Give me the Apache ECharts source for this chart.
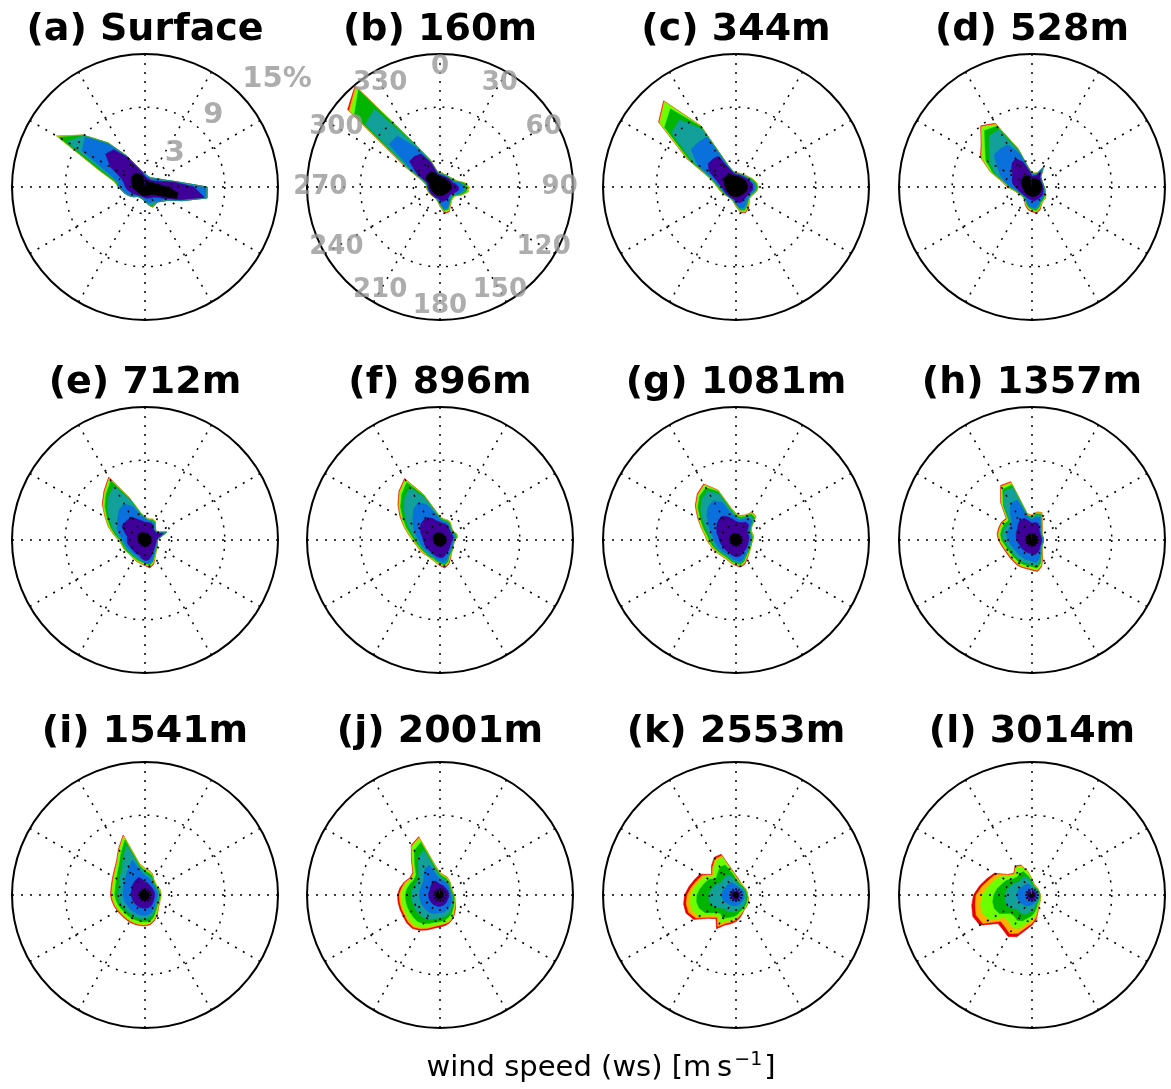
<!DOCTYPE html>
<html><head><meta charset="utf-8">
<script src="https://cdn.jsdelivr.net/npm/echarts@6/dist/echarts.min.js"></script>
<style>html,body{margin:0;padding:0;background:#fff}#chart{width:1171px;height:1089px}</style>
</head><body><div id="chart"></div>
<script>
// wind direction (degrees, from north, clockwise)
const directions = [0,10,20,30,40,50,60,70,80,90,100,110,120,130,140,150,160,170,180,190,200,210,220,230,240,250,260,270,280,290,300,310,320,330,340,350];
const panelTitles = ['(a) Surface','(b) 160m','(c) 344m','(d) 528m','(e) 712m','(f) 896m','(g) 1081m','(h) 1357m','(i) 1541m','(j) 2001m','(k) 2553m','(l) 3014m'];
const binNames = ['bin 1','bin 2','bin 3','bin 4','bin 5','bin 6','bin 7','bin 8'];
const binColors = ['#000000','#3f009a','#0a70dc','#14a09a','#00b400','#6cff00','#ffb000','#e80000'];
const ringTicks = [3, 9];
const radialLabelValues = [3, 9, 15];
const radialLabelTexts = ['3', '9', '15%'];
const angleTickValues = [0,30,60,90,120,150,180,210,240,270,300,330];
const angleTickLabels = ['0','30','60','90','120','150','180','210','240','270','300','330'];

// cumulative frequency (%) per direction, bins from slowest (b0) to fastest (b7)
const a_b0 = [1.0,0.8,0.7,0.7,0.7,0.8,1.0,1.2,1.6,2.5,3.8,3.8,2.0,1.3,1.1,1.0,1.0,1.0,1.0,1.0,1.0,1.0,1.0,1.0,1.0,1.0,1.3,1.4,1.5,1.6,1.8,1.9,1.9,1.8,1.5,1.2];
const a_b1 = [1.2,1.1,1.0,1.0,1.0,1.1,1.3,1.8,3.3,5.5,6.8,4.2,2.6,1.8,1.5,1.4,1.4,1.3,1.2,1.1,1.1,1.1,1.2,1.3,1.5,1.7,2.0,2.2,2.4,2.8,4.5,5.8,5.5,3.8,2.3,1.6];
const a_b2 = [1.5,1.3,1.2,1.2,1.3,1.5,1.8,2.3,3.5,7.0,7.1,4.5,3.0,2.5,2.2,1.9,1.9,1.8,1.6,1.4,1.3,1.3,1.4,1.7,2.0,2.3,2.6,3.0,3.0,4.3,8.2,8.8,6.3,3.9,2.4,1.8];
const a_b3 = [1.5,1.3,1.2,1.2,1.3,1.5,1.8,2.3,3.5,7.0,7.1,4.5,3.0,2.5,2.2,2.2,2.2,2.0,1.6,1.4,1.3,1.3,1.4,1.7,2.0,2.3,2.6,3.0,3.2,4.8,10.2,9.0,6.4,3.9,2.4,1.8];
const a_b4 = [1.5,1.3,1.2,1.2,1.3,1.5,1.8,2.3,3.5,7.0,7.1,4.5,3.0,2.5,2.2,2.3,2.4,2.0,1.6,1.4,1.3,1.3,1.4,1.7,2.0,2.3,2.6,3.0,3.4,5.3,11.2,9.1,6.5,4.0,2.4,1.8];
const a_b5 = [1.5,1.3,1.2,1.2,1.3,1.5,1.8,2.3,3.5,7.0,7.1,4.5,3.0,2.5,2.2,2.3,2.4,2.0,1.6,1.4,1.3,1.3,1.4,1.7,2.0,2.3,2.6,3.0,3.5,5.5,11.5,9.1,6.5,4.0,2.4,1.8];

const b_b0 = [1.2,1.1,1.1,1.1,1.1,1.2,1.2,1.3,1.3,1.3,1.3,1.2,1.1,1.1,1.0,1.0,1.0,1.0,1.0,1.0,1.0,1.0,1.0,1.0,1.0,1.0,1.1,1.1,1.2,1.3,1.8,2.0,2.0,2.0,1.7,1.3];
const b_b1 = [1.4,1.3,1.3,1.3,1.3,1.4,1.4,1.5,1.8,2.1,2.1,1.8,1.5,1.4,1.5,1.6,1.7,1.7,1.5,1.3,1.3,1.3,1.3,1.3,1.3,1.3,1.4,1.4,1.4,1.6,3.0,4.5,4.5,4.3,2.9,1.5];
const b_b2 = [1.4,1.4,1.4,1.4,1.4,1.4,1.5,1.7,2.4,2.7,2.6,2.2,1.7,1.6,1.7,2.1,2.5,2.5,1.9,1.4,1.3,1.3,1.3,1.3,1.3,1.3,1.4,1.4,1.5,1.8,3.6,7.5,7.5,5.0,3.0,1.6];
const b_b3 = [1.5,1.5,1.4,1.4,1.4,1.5,1.6,1.8,2.5,2.8,2.8,2.3,1.8,1.7,1.8,2.1,2.6,2.6,1.9,1.5,1.3,1.3,1.3,1.3,1.3,1.3,1.4,1.4,1.5,1.9,3.9,11.0,11.5,5.3,3.1,1.7];
const b_b4 = [1.5,1.5,1.5,1.5,1.5,1.6,1.7,1.9,2.7,3.1,3.0,2.5,1.9,1.8,1.9,2.2,2.7,2.7,2.0,1.5,1.4,1.3,1.3,1.3,1.3,1.4,1.4,1.5,1.5,2.0,4.1,12.6,14.3,5.4,3.2,1.7];
const b_b5 = [1.6,1.6,1.5,1.5,1.5,1.6,1.8,2.0,2.8,3.3,3.2,2.6,2.0,1.9,2.0,2.3,2.8,2.8,2.1,1.6,1.4,1.3,1.3,1.3,1.4,1.4,1.5,1.5,1.6,2.1,4.3,13.2,14.6,5.5,3.3,1.8];
const b_b6 = [1.6,1.6,1.5,1.5,1.5,1.6,1.8,2.0,2.8,3.3,3.2,2.6,2.0,1.9,2.0,2.4,2.9,2.9,2.2,1.6,1.4,1.3,1.3,1.3,1.4,1.4,1.5,1.5,1.6,2.2,4.4,13.4,14.8,5.6,3.3,1.8];
const b_b7 = [1.6,1.6,1.5,1.5,1.5,1.6,1.8,2.0,2.8,3.3,3.2,2.6,2.0,1.9,2.0,2.4,3.0,3.0,2.2,1.6,1.4,1.3,1.3,1.3,1.4,1.4,1.5,1.5,1.6,2.2,4.5,13.6,14.9,5.6,3.3,1.8];

const c_b0 = [1.2,1.2,1.2,1.2,1.2,1.3,1.3,1.3,1.3,1.3,1.3,1.2,1.2,1.1,1.1,1.1,1.1,1.1,1.1,1.1,1.1,1.1,1.1,1.1,1.1,1.1,1.2,1.2,1.3,1.4,1.6,1.7,1.7,1.7,1.5,1.3];
const c_b1 = [1.4,1.4,1.4,1.4,1.4,1.5,1.6,1.7,1.9,1.9,1.9,1.7,1.6,1.6,1.6,1.7,1.8,1.8,1.6,1.4,1.3,1.3,1.3,1.3,1.4,1.4,1.5,1.6,1.9,2.4,3.5,4.1,4.1,4.0,2.2,1.6];
const c_b2 = [1.5,1.5,1.5,1.5,1.5,1.6,1.7,1.9,2.1,2.2,2.1,1.9,1.8,1.8,1.9,2.2,2.5,2.4,1.9,1.5,1.4,1.4,1.4,1.4,1.5,1.5,1.6,1.8,2.2,2.8,5.0,6.6,6.6,6.5,2.4,1.7];
const c_b3 = [1.5,1.5,1.5,1.5,1.6,1.7,1.8,2.0,2.2,2.3,2.2,2.0,1.9,1.9,2.0,2.4,2.7,2.5,2.0,1.6,1.4,1.4,1.4,1.4,1.5,1.6,1.7,1.9,2.3,3.0,5.6,9.5,9.9,7.5,2.5,1.7];
const c_b4 = [1.5,1.5,1.5,1.5,1.6,1.7,1.9,2.1,2.3,2.4,2.3,2.1,1.9,1.9,2.1,2.5,2.8,2.6,2.0,1.6,1.4,1.4,1.4,1.4,1.5,1.6,1.8,2.0,2.4,3.1,6.0,10.5,11.5,7.8,2.6,1.7];
const c_b5 = [1.6,1.6,1.6,1.6,1.7,1.8,2.0,2.2,2.4,2.5,2.4,2.2,2.0,2.0,2.2,2.6,2.9,2.7,2.1,1.7,1.5,1.4,1.4,1.5,1.6,1.7,1.9,2.1,2.5,3.2,6.2,11.2,12.5,7.9,2.6,1.8];
const c_b6 = [1.6,1.6,1.6,1.6,1.7,1.8,2.0,2.2,2.4,2.5,2.4,2.2,2.0,2.0,2.3,2.7,3.0,2.8,2.2,1.7,1.5,1.4,1.4,1.5,1.6,1.7,1.9,2.1,2.5,3.3,6.3,11.3,12.6,8.0,2.6,1.8];
const c_b7 = [1.6,1.6,1.6,1.6,1.7,1.8,2.0,2.2,2.4,2.5,2.4,2.2,2.0,2.0,2.3,2.8,3.1,2.9,2.2,1.7,1.5,1.4,1.4,1.5,1.6,1.7,1.9,2.1,2.5,3.3,6.4,11.4,12.7,8.0,2.6,1.8];

const d_b0 = [1.0,1.0,1.0,1.1,1.1,1.1,1.1,1.1,1.1,1.1,1.1,1.1,1.1,1.1,1.1,1.1,1.1,1.1,1.1,1.1,1.0,1.0,1.0,1.0,1.0,1.0,1.0,1.1,1.2,1.3,1.4,1.4,1.5,1.5,1.4,1.2];
const d_b1 = [1.2,1.3,1.4,2.0,1.4,1.3,1.2,1.2,1.2,1.2,1.3,1.3,1.4,1.5,1.5,1.5,1.6,1.6,1.5,1.4,1.3,1.3,1.3,1.3,1.4,1.5,1.6,1.9,2.2,2.4,2.5,3.0,3.5,3.7,3.0,1.9];
const d_b2 = [1.4,1.4,1.5,2.4,1.5,1.3,1.3,1.3,1.3,1.3,1.4,1.5,1.6,1.7,1.7,1.8,2.1,2.4,2.3,2.1,1.7,1.5,1.4,1.4,1.5,1.6,1.8,2.4,3.0,3.8,4.5,5.6,5.6,5.5,4.0,2.1];
const d_b3 = [1.5,1.5,1.6,2.5,1.5,1.4,1.3,1.3,1.3,1.4,1.4,1.5,1.6,1.7,1.8,1.9,2.3,2.5,2.4,2.2,1.8,1.5,1.4,1.4,1.5,1.7,1.9,2.5,3.2,4.4,5.5,6.3,7.5,7.5,4.3,2.1];
const d_b4 = [1.5,1.5,1.6,2.6,1.5,1.4,1.3,1.3,1.3,1.4,1.5,1.6,1.7,1.8,1.9,2.0,2.4,2.7,2.5,2.3,1.9,1.6,1.5,1.5,1.6,1.7,2.0,2.6,3.2,4.7,6.0,6.9,8.3,7.9,4.5,2.1];
const d_b5 = [1.6,1.6,1.7,2.7,1.6,1.4,1.3,1.3,1.3,1.4,1.5,1.6,1.8,1.9,2.0,2.1,2.5,2.8,2.6,2.4,2.0,1.6,1.5,1.5,1.6,1.8,2.1,2.7,3.3,4.9,6.5,7.3,8.8,8.1,4.6,2.2];
const d_b6 = [1.6,1.6,1.7,2.7,1.6,1.4,1.3,1.3,1.3,1.4,1.5,1.6,1.8,2.0,2.0,2.2,2.6,2.9,2.7,2.5,2.1,1.7,1.5,1.5,1.6,1.8,2.1,2.8,3.4,5.0,6.6,7.4,8.9,8.2,4.6,2.2];
const d_b7 = [1.6,1.6,1.7,2.7,1.6,1.4,1.3,1.3,1.3,1.4,1.5,1.6,1.8,2.0,2.0,2.2,2.7,3.0,2.8,2.6,2.2,1.7,1.5,1.5,1.6,1.8,2.1,2.8,3.4,5.0,6.7,7.5,9.0,8.3,4.6,2.2];

const e_b0 = [0.8,0.8,0.8,0.8,0.7,0.7,0.7,0.7,0.7,0.7,0.7,0.7,0.7,0.7,0.7,0.7,0.8,0.8,0.8,0.7,0.7,0.7,0.7,0.7,0.7,0.7,0.8,0.8,0.8,0.9,0.9,1.0,1.0,1.0,0.9,0.8];
const e_b1 = [2.0,2.0,2.0,1.9,1.5,1.5,1.5,2.2,1.5,1.3,1.3,1.3,1.3,1.4,1.5,1.7,2.0,2.3,2.3,2.1,1.8,1.8,1.8,1.8,1.8,1.9,2.0,2.0,2.0,2.4,3.0,3.0,3.0,3.0,2.5,2.2];
const e_b2 = [2.4,2.2,2.2,2.1,1.6,1.5,1.7,2.5,1.7,1.4,1.4,1.4,1.4,1.5,1.7,2.0,2.5,2.7,2.6,2.3,2.1,2.0,2.0,2.0,2.1,2.2,2.3,2.5,2.9,3.3,3.6,4.0,4.5,4.7,4.0,2.8];
const e_b3 = [2.5,2.3,2.3,2.2,1.7,1.6,1.7,2.6,1.7,1.4,1.4,1.4,1.5,1.6,1.8,2.0,2.5,2.8,2.6,2.4,2.3,2.2,2.2,2.2,2.3,2.4,2.5,2.7,3.2,3.9,4.6,5.5,6.4,7.0,4.8,3.1];
const e_b4 = [2.5,2.3,2.4,2.3,1.8,1.6,1.8,2.6,1.8,1.4,1.4,1.5,1.6,1.7,1.8,2.1,2.6,2.9,2.6,2.5,2.4,2.3,2.3,2.3,2.4,2.5,2.6,2.8,3.4,4.1,4.9,5.9,6.8,7.7,4.9,3.1];
const e_b5 = [2.6,2.4,2.5,2.4,1.8,1.6,1.8,2.6,1.8,1.4,1.4,1.5,1.6,1.7,1.9,2.2,2.7,3.0,2.7,2.6,2.5,2.4,2.4,2.4,2.5,2.6,2.7,2.9,3.5,4.3,5.1,6.1,7.0,8.0,5.0,3.2];
const e_b6 = [2.6,2.4,2.5,2.4,1.8,1.6,1.8,2.6,1.8,1.4,1.4,1.5,1.6,1.7,1.9,2.3,2.8,3.1,2.8,2.7,2.6,2.5,2.4,2.4,2.5,2.6,2.7,3.0,3.6,4.4,5.2,6.2,7.1,8.1,5.0,3.2];
const e_b7 = [2.6,2.4,2.5,2.4,1.8,1.6,1.8,2.6,1.8,1.4,1.4,1.5,1.6,1.7,1.9,2.3,2.9,3.2,2.9,2.7,2.6,2.5,2.4,2.4,2.5,2.6,2.7,3.0,3.6,4.4,5.2,6.3,7.2,8.2,5.0,3.2];

const f_b0 = [0.8,0.8,0.8,0.7,0.7,0.7,0.7,0.7,0.7,0.7,0.7,0.7,0.7,0.7,0.7,0.7,0.7,0.7,0.7,0.7,0.7,0.7,0.7,0.7,0.7,0.7,0.7,0.8,0.8,0.8,0.9,0.9,0.9,0.9,0.9,0.8];
const f_b1 = [2.0,1.9,1.9,1.8,1.6,1.5,1.5,1.5,1.5,1.4,1.3,1.3,1.3,1.4,1.5,1.6,1.8,2.0,2.0,1.9,1.8,1.7,1.7,1.7,1.7,1.8,1.8,1.9,2.0,2.3,2.6,2.8,2.9,2.9,2.6,2.2];
const f_b2 = [2.3,2.1,2.1,2.0,1.7,1.6,1.6,1.7,1.7,1.5,1.5,1.5,1.5,1.6,1.7,1.9,2.3,2.6,2.4,2.2,2.0,1.9,1.9,1.9,2.0,2.1,2.2,2.4,2.7,3.1,3.5,4.0,4.6,4.9,4.2,3.0];
const f_b3 = [2.4,2.2,2.2,2.1,1.8,1.7,1.7,1.8,1.8,1.6,1.5,1.5,1.6,1.7,1.8,2.0,2.5,2.8,2.5,2.3,2.1,2.1,2.1,2.1,2.2,2.3,2.5,2.7,3.1,3.7,4.4,5.3,6.2,6.8,5.1,3.3];
const f_b4 = [2.5,2.3,2.3,2.2,1.9,1.8,1.8,1.9,1.9,1.7,1.6,1.6,1.7,1.8,1.9,2.1,2.6,2.9,2.6,2.4,2.2,2.2,2.2,2.2,2.3,2.4,2.6,2.9,3.3,4.0,4.8,5.8,6.7,7.5,5.3,3.4];
const f_b5 = [2.6,2.4,2.4,2.3,2.0,1.8,1.8,2.0,2.0,1.7,1.6,1.6,1.7,1.8,2.0,2.2,2.7,3.0,2.7,2.5,2.3,2.3,2.3,2.3,2.4,2.5,2.7,3.0,3.5,4.2,5.0,6.0,7.0,7.8,5.4,3.4];
const f_b6 = [2.6,2.4,2.4,2.3,2.0,1.8,1.8,2.0,2.0,1.7,1.6,1.6,1.7,1.8,2.0,2.3,2.8,3.1,2.8,2.6,2.4,2.3,2.3,2.4,2.5,2.6,2.8,3.1,3.6,4.3,5.1,6.1,7.1,7.9,5.5,3.5];
const f_b7 = [2.6,2.4,2.4,2.3,2.0,1.8,1.8,2.0,2.0,1.7,1.6,1.6,1.7,1.8,2.0,2.4,2.9,3.2,2.9,2.6,2.4,2.3,2.3,2.4,2.5,2.6,2.8,3.1,3.6,4.3,5.2,6.2,7.2,8.0,5.5,3.5];

const g_b0 = [0.7,0.7,0.7,0.7,0.7,0.6,0.6,0.6,0.6,0.6,0.6,0.6,0.6,0.6,0.6,0.6,0.6,0.6,0.6,0.6,0.6,0.6,0.6,0.6,0.6,0.6,0.6,0.6,0.7,0.7,0.7,0.8,0.8,0.8,0.8,0.7];
const g_b1 = [2.1,2.0,2.1,2.3,2.2,1.7,1.5,1.5,1.5,1.4,1.4,1.4,1.4,1.5,1.5,1.6,1.8,1.9,1.9,1.8,1.7,1.6,1.6,1.6,1.7,1.7,1.8,1.9,2.0,2.3,2.5,2.8,3.0,3.1,2.8,2.4];
const g_b2 = [2.5,2.3,2.5,2.9,2.8,2.0,1.7,1.7,1.7,1.6,1.6,1.6,1.6,1.7,1.8,2.0,2.3,2.5,2.3,2.2,2.0,1.9,1.9,2.0,2.1,2.2,2.3,2.5,2.7,3.1,3.6,4.3,4.9,5.1,4.5,3.0];
const g_b3 = [2.7,2.5,2.7,3.2,3.1,2.1,1.8,1.8,1.8,1.7,1.7,1.7,1.7,1.8,1.9,2.1,2.5,2.7,2.5,2.4,2.2,2.1,2.1,2.2,2.3,2.5,2.6,2.8,3.1,3.6,4.3,5.2,6.0,6.4,5.5,3.4];
const g_b4 = [2.8,2.6,2.8,3.4,3.3,2.2,1.9,1.9,1.9,1.8,1.8,1.8,1.8,1.9,2.0,2.2,2.6,2.8,2.6,2.5,2.3,2.2,2.2,2.3,2.4,2.6,2.8,3.0,3.3,3.9,4.6,5.6,6.4,6.8,5.8,3.6];
const g_b5 = [2.9,2.7,2.9,3.5,3.4,2.3,2.0,2.0,2.0,1.9,1.8,1.8,1.9,2.0,2.1,2.3,2.7,2.9,2.7,2.6,2.4,2.3,2.3,2.4,2.5,2.7,2.9,3.2,3.5,4.1,4.8,5.8,6.6,7.1,5.9,3.7];
const g_b6 = [3.0,2.8,3.0,3.6,3.5,2.3,2.0,2.0,2.0,1.9,1.8,1.8,1.9,2.0,2.2,2.4,2.8,3.0,2.8,2.7,2.5,2.4,2.4,2.5,2.6,2.8,3.0,3.3,3.6,4.2,4.9,5.9,6.7,7.2,6.0,3.8];
const g_b7 = [3.0,2.8,3.0,3.6,3.5,2.3,2.0,2.0,2.0,1.9,1.8,1.8,1.9,2.0,2.2,2.5,2.9,3.1,2.9,2.7,2.5,2.4,2.4,2.5,2.6,2.8,3.0,3.3,3.6,4.2,5.0,6.0,6.8,7.3,6.0,3.8];

const h_b0 = [0.6,0.6,0.7,0.6,0.6,0.6,0.6,0.6,0.6,0.6,0.6,0.6,0.6,0.6,0.6,0.6,0.7,0.7,0.6,0.6,0.6,0.6,0.6,0.6,0.6,0.6,0.6,0.6,0.6,0.7,0.7,0.7,0.7,0.7,0.7,0.6];
const h_b1 = [1.9,2.0,2.0,1.6,1.3,1.2,1.1,1.1,1.1,1.1,1.1,1.1,1.1,1.2,1.3,1.5,1.6,1.7,1.6,1.5,1.5,1.5,1.5,1.5,1.5,1.5,1.6,1.7,1.8,1.9,2.0,2.1,2.4,2.6,2.6,2.2];
const h_b2 = [2.3,2.6,2.7,1.9,1.5,1.3,1.2,1.2,1.2,1.2,1.2,1.2,1.2,1.3,1.5,1.8,2.3,2.6,2.4,2.3,2.3,2.2,2.2,2.2,2.2,2.3,2.5,2.7,2.9,2.9,2.9,2.9,3.8,4.8,4.8,2.6];
const h_b3 = [2.5,2.9,3.0,2.0,1.6,1.4,1.3,1.3,1.3,1.3,1.3,1.3,1.3,1.4,1.6,2.0,2.6,3.0,2.8,2.7,2.7,2.7,2.6,2.6,2.6,2.7,2.9,3.2,3.4,3.4,3.3,3.2,4.8,6.3,6.3,2.7];
const h_b4 = [2.6,3.0,3.1,2.1,1.7,1.4,1.3,1.3,1.3,1.3,1.3,1.3,1.3,1.4,1.7,2.1,2.8,3.2,3.0,2.9,2.9,2.9,2.8,2.8,2.8,2.9,3.1,3.4,3.6,3.6,3.6,3.4,5.0,6.6,6.6,2.8];
const h_b5 = [2.7,3.1,3.2,2.2,1.7,1.5,1.3,1.3,1.3,1.3,1.3,1.3,1.3,1.5,1.7,2.2,3.0,3.4,3.2,3.1,3.1,3.1,3.0,3.0,3.0,3.1,3.3,3.6,3.8,3.8,3.8,3.6,5.3,6.9,6.8,2.9];
const h_b6 = [2.8,3.2,3.3,2.3,1.8,1.5,1.3,1.3,1.3,1.3,1.3,1.3,1.3,1.5,1.8,2.3,3.1,3.5,3.3,3.2,3.2,3.2,3.1,3.1,3.1,3.2,3.4,3.7,3.9,3.9,3.9,3.7,5.4,7.0,6.9,3.0];
const h_b7 = [2.8,3.2,3.3,2.3,1.8,1.5,1.3,1.3,1.3,1.3,1.3,1.3,1.3,1.5,1.8,2.4,3.2,3.6,3.4,3.3,3.3,3.3,3.2,3.2,3.2,3.3,3.5,3.8,4.0,4.0,4.0,3.8,5.5,7.1,7.0,3.0];

const i_b0 = [0.6,0.6,0.6,0.5,0.5,0.5,0.5,0.5,0.5,0.5,0.5,0.5,0.5,0.5,0.6,0.6,0.6,0.6,0.6,0.6,0.6,0.6,0.6,0.6,0.6,0.6,0.6,0.6,0.6,0.6,0.6,0.6,0.7,0.7,0.7,0.6];
const i_b1 = [1.5,1.4,1.3,1.2,1.2,1.1,1.1,1.1,1.1,1.1,1.1,1.1,1.1,1.2,1.3,1.4,1.5,1.5,1.5,1.5,1.5,1.5,1.5,1.5,1.5,1.5,1.5,1.6,1.6,1.6,1.7,1.8,1.9,2.0,2.1,1.8];
const i_b2 = [2.2,2.0,1.8,1.6,1.5,1.4,1.4,1.4,1.4,1.4,1.4,1.4,1.4,1.5,1.7,1.9,2.1,2.2,2.3,2.3,2.3,2.3,2.3,2.3,2.3,2.4,2.4,2.5,2.5,2.6,2.7,2.9,3.2,3.6,4.2,2.7];
const i_b3 = [2.5,2.3,2.1,1.8,1.6,1.5,1.5,1.6,1.6,1.6,1.6,1.6,1.6,1.7,1.9,2.1,2.4,2.6,2.7,2.7,2.7,2.7,2.7,2.7,2.8,2.9,3.0,3.0,3.0,3.1,3.3,3.6,4.0,4.9,6.0,3.1];
const i_b4 = [2.7,2.5,2.3,1.9,1.7,1.6,1.6,1.7,1.7,1.7,1.7,1.7,1.7,1.8,2.0,2.3,2.7,3.0,3.0,3.0,3.0,3.0,3.0,3.0,3.1,3.2,3.3,3.4,3.4,3.5,3.7,4.0,4.5,5.4,6.6,3.3];
const i_b5 = [2.9,2.7,2.4,2.0,1.8,1.7,1.7,1.8,1.8,1.8,1.8,1.8,1.8,1.9,2.2,2.5,2.9,3.2,3.3,3.3,3.3,3.3,3.3,3.3,3.4,3.5,3.6,3.7,3.7,3.8,4.0,4.3,4.8,5.8,7.0,3.5];
const i_b6 = [3.0,2.8,2.5,2.0,1.8,1.7,1.7,1.8,1.8,1.8,1.8,1.8,1.9,2.0,2.3,2.6,3.0,3.3,3.4,3.4,3.4,3.4,3.4,3.4,3.5,3.6,3.7,3.8,3.8,3.9,4.1,4.4,4.9,5.9,7.1,3.6];
const i_b7 = [3.0,2.8,2.5,2.0,1.8,1.7,1.7,1.8,1.8,1.8,1.8,1.8,1.9,2.0,2.3,2.7,3.1,3.4,3.5,3.5,3.5,3.5,3.5,3.5,3.6,3.7,3.8,3.9,3.9,4.0,4.2,4.5,5.0,6.0,7.2,3.6];

const j_b0 = [0.5,0.5,0.5,0.5,0.4,0.4,0.4,0.4,0.4,0.4,0.4,0.4,0.4,0.4,0.4,0.5,0.5,0.5,0.5,0.5,0.5,0.5,0.5,0.5,0.5,0.5,0.5,0.5,0.5,0.5,0.5,0.5,0.6,0.6,0.6,0.5];
const j_b1 = [1.2,1.2,1.1,1.1,1.0,1.0,1.0,1.0,1.0,1.0,1.0,1.0,1.0,1.1,1.1,1.2,1.2,1.3,1.3,1.3,1.3,1.3,1.3,1.3,1.3,1.3,1.3,1.3,1.3,1.3,1.3,1.4,1.5,1.7,1.7,1.4];
const j_b2 = [1.8,1.7,1.6,1.5,1.4,1.3,1.2,1.2,1.2,1.3,1.3,1.4,1.5,1.6,1.7,1.8,1.9,2.0,2.0,2.1,2.2,2.3,2.3,2.3,2.3,2.3,2.3,2.3,2.3,2.3,2.3,2.4,2.8,3.4,3.6,2.3];
const j_b3 = [2.1,1.9,1.8,1.7,1.6,1.4,1.3,1.3,1.3,1.4,1.5,1.6,1.7,1.8,2.0,2.2,2.4,2.5,2.6,2.7,2.9,3.1,3.2,3.2,3.2,3.2,3.2,3.2,3.2,3.1,3.0,3.1,3.8,4.9,5.4,2.9];
const j_b4 = [2.3,2.1,2.0,1.8,1.7,1.5,1.4,1.4,1.4,1.5,1.6,1.7,1.8,2.0,2.2,2.5,2.7,2.9,3.0,3.1,3.4,3.7,3.9,3.9,3.9,3.9,3.9,3.9,3.8,3.6,3.4,3.5,4.4,5.8,6.3,3.2];
const j_b5 = [2.4,2.2,2.1,1.9,1.8,1.6,1.5,1.5,1.5,1.6,1.7,1.8,1.9,2.1,2.4,2.8,3.0,3.2,3.3,3.4,3.8,4.2,4.5,4.5,4.4,4.4,4.4,4.4,4.2,4.0,3.7,3.8,4.8,6.3,6.8,3.4];
const j_b6 = [2.5,2.3,2.2,2.0,1.8,1.6,1.5,1.5,1.5,1.6,1.7,1.8,2.0,2.2,2.5,2.9,3.2,3.3,3.4,3.6,4.0,4.4,4.7,4.7,4.6,4.6,4.6,4.6,4.4,4.2,3.8,3.9,4.9,6.4,6.9,3.5];
const j_b7 = [2.5,2.3,2.2,2.0,1.8,1.6,1.5,1.5,1.5,1.6,1.7,1.8,2.0,2.3,2.6,3.0,3.3,3.5,3.6,3.8,4.2,4.6,4.9,4.9,4.8,4.8,4.8,4.8,4.6,4.3,3.9,4.0,5.0,6.5,7.0,3.5];

const k_b0 = [0.4,0.4,0.3,0.3,0.3,0.3,0.3,0.4,0.4,0.4,0.3,0.3,0.3,0.3,0.3,0.3,0.4,0.4,0.4,0.4,0.4,0.4,0.4,0.4,0.4,0.4,0.4,0.4,0.4,0.4,0.4,0.4,0.4,0.4,0.4,0.4];
const k_b1 = [0.6,0.6,0.5,0.5,0.5,0.5,0.5,0.5,0.5,0.5,0.5,0.5,0.5,0.5,0.5,0.6,0.6,0.6,0.6,0.6,0.6,0.6,0.6,0.6,0.6,0.6,0.6,0.6,0.6,0.6,0.6,0.6,0.6,0.6,0.6,0.6];
const k_b2 = [1.1,1.0,0.9,0.9,0.9,0.9,0.9,0.9,0.9,0.9,0.9,0.9,1.0,1.0,1.0,1.1,1.1,1.2,1.2,1.2,1.3,1.3,1.3,1.4,1.5,1.6,1.6,1.6,1.6,1.5,1.5,1.4,1.5,1.5,1.5,1.3];
const k_b3 = [1.5,1.3,1.2,1.1,1.1,1.1,1.1,1.1,1.1,1.1,1.2,1.2,1.3,1.4,1.4,1.5,1.6,1.7,1.8,1.9,2.0,2.1,2.0,2.3,2.8,3.0,3.1,3.1,2.9,2.7,2.5,2.2,2.3,2.4,2.4,2.0];
const k_b4 = [1.8,1.5,1.3,1.2,1.2,1.2,1.2,1.2,1.2,1.2,1.3,1.3,1.4,1.5,1.6,1.7,1.8,2.0,2.3,2.5,2.7,3.0,2.7,3.1,4.0,4.4,4.5,4.4,4.1,3.8,3.5,2.9,3.2,3.6,3.6,2.5];
const k_b5 = [2.0,1.7,1.4,1.3,1.3,1.3,1.3,1.3,1.3,1.3,1.4,1.4,1.5,1.6,1.7,1.8,2.0,2.3,2.6,2.9,3.1,3.7,3.1,3.6,4.8,5.2,5.3,5.1,4.8,4.4,4.1,3.3,3.9,4.5,4.5,2.8];
const k_b6 = [2.1,1.7,1.5,1.4,1.3,1.3,1.3,1.3,1.3,1.3,1.4,1.5,1.6,1.7,1.8,1.9,2.1,2.4,2.8,3.1,3.4,4.1,3.3,3.9,5.2,5.7,5.7,5.5,5.1,4.7,4.4,3.5,4.1,4.7,4.7,2.9];
const k_b7 = [2.2,1.8,1.5,1.4,1.3,1.3,1.3,1.3,1.3,1.3,1.4,1.5,1.6,1.7,1.8,1.9,2.2,2.6,3.0,3.3,3.6,4.4,3.5,4.1,5.5,6.0,6.0,5.8,5.4,5.0,4.7,3.6,4.3,4.9,4.9,3.0];

const l_b0 = [0.4,0.3,0.3,0.3,0.3,0.3,0.3,0.3,0.3,0.3,0.3,0.3,0.3,0.3,0.3,0.3,0.3,0.3,0.3,0.4,0.4,0.4,0.4,0.4,0.4,0.4,0.4,0.4,0.4,0.3,0.3,0.3,0.3,0.3,0.3,0.4];
const l_b1 = [0.6,0.5,0.5,0.5,0.5,0.5,0.5,0.5,0.5,0.5,0.5,0.5,0.5,0.5,0.5,0.5,0.6,0.6,0.6,0.6,0.6,0.6,0.6,0.6,0.6,0.6,0.6,0.6,0.6,0.6,0.6,0.6,0.6,0.6,0.6,0.6];
const l_b2 = [0.9,0.8,0.7,0.7,0.7,0.7,0.7,0.7,0.7,0.7,0.7,0.7,0.7,0.8,0.8,0.8,0.9,1.0,1.1,1.2,1.3,1.4,1.4,1.5,1.6,1.7,1.7,1.7,1.7,1.6,1.6,1.4,1.4,1.4,1.3,1.1];
const l_b3 = [1.2,1.0,0.9,0.8,0.8,0.8,0.8,0.8,0.8,0.8,0.8,0.8,0.9,0.9,1.0,1.0,1.2,1.5,1.8,2.0,2.3,2.4,2.3,2.4,2.9,3.1,3.1,3.0,2.9,2.7,2.5,2.2,2.1,2.2,2.2,1.8];
const l_b4 = [1.5,1.1,1.0,0.9,0.9,0.9,0.9,0.9,0.9,0.9,0.9,0.9,1.0,1.0,1.1,1.2,1.5,1.9,2.3,2.6,3.1,3.3,3.1,3.2,4.2,4.5,4.5,4.3,4.0,3.6,3.3,2.8,2.6,2.8,2.8,2.1];
const l_b5 = [1.7,1.2,1.0,1.0,1.0,0.9,0.9,0.9,0.9,0.9,1.0,1.0,1.1,1.1,1.2,1.3,1.7,2.3,2.8,3.2,4.0,4.3,4.0,4.0,5.6,6.0,5.9,5.6,5.1,4.6,4.2,3.3,3.0,3.6,3.4,2.6];
const l_b6 = [1.8,1.3,1.1,1.0,1.0,0.9,0.9,0.9,0.9,0.9,1.0,1.0,1.1,1.2,1.3,1.4,1.9,2.6,3.2,3.7,4.6,5.0,4.7,4.6,6.4,6.7,6.5,6.3,5.7,5.1,4.7,3.5,3.1,3.7,3.5,2.7];
const l_b7 = [1.8,1.3,1.1,1.0,1.0,0.9,0.9,0.9,0.9,0.9,1.0,1.0,1.1,1.2,1.3,1.5,2.0,2.8,3.4,4.0,5.0,5.4,5.1,5.0,6.8,7.1,6.9,6.6,6.0,5.4,4.9,3.6,3.2,3.8,3.6,2.7];

const panelBins = [
  [a_b0,a_b1,a_b2,a_b3,a_b4,a_b5,a_b5,a_b5],
  [b_b0,b_b1,b_b2,b_b3,b_b4,b_b5,b_b6,b_b7],
  [c_b0,c_b1,c_b2,c_b3,c_b4,c_b5,c_b6,c_b7],
  [d_b0,d_b1,d_b2,d_b3,d_b4,d_b5,d_b6,d_b7],
  [e_b0,e_b1,e_b2,e_b3,e_b4,e_b5,e_b6,e_b7],
  [f_b0,f_b1,f_b2,f_b3,f_b4,f_b5,f_b6,f_b7],
  [g_b0,g_b1,g_b2,g_b3,g_b4,g_b5,g_b6,g_b7],
  [h_b0,h_b1,h_b2,h_b3,h_b4,h_b5,h_b6,h_b7],
  [i_b0,i_b1,i_b2,i_b3,i_b4,i_b5,i_b6,i_b7],
  [j_b0,j_b1,j_b2,j_b3,j_b4,j_b5,j_b6,j_b7],
  [k_b0,k_b1,k_b2,k_b3,k_b4,k_b5,k_b6,k_b7],
  [l_b0,l_b1,l_b2,l_b3,l_b4,l_b5,l_b6,l_b7]
];

// ---------- layout & style ----------
const colX = [145, 440, 736, 1032];
const rowY = [187, 540, 895];
const titleY = [30, 383, 732];
const R = 133;
const FONT = 'DejaVu Sans';
const gridLine = { color: '#000', width: 1.5, type: [2, 7] };

const polar = [], angleAxis = [], radiusAxis = [], series = [], title = [];

panelBins.forEach((bins, p) => {
  const cx = colX[p % 4], cy = rowY[Math.floor(p / 4)];
  polar.push({ center: [cx, cy], radius: R });
  angleAxis.push({
    polarIndex: p, type: 'value', min: 0, max: 360, interval: 30,
    startAngle: 90, clockwise: true, z: 10,
    axisLine: { show: true, lineStyle: { color: '#000', width: 2 } },
    axisTick: { show: false }, axisLabel: { show: false },
    splitLine: { show: true, lineStyle: gridLine }
  });
  radiusAxis.push({
    polarIndex: p, type: 'value', min: 0, max: 15, z: 10,
    axisLine: { show: false }, axisLabel: { show: false },
    axisTick: { show: false, customValues: ringTicks },
    splitLine: { show: true, lineStyle: gridLine }
  });
  for (let k = bins.length - 1; k >= 0; k--) {
    const vals = bins[k];
    const data = directions.map((d, i) => [vals[i], d]);
    data.push([vals[0], 360]);
    series.push({
      type: 'line', name: binNames[k], coordinateSystem: 'polar', polarIndex: p,
      data, symbol: 'none', silent: true, animation: false, z: 2,
      lineStyle: { width: 0.6, color: binColors[k] },
      areaStyle: { color: binColors[k], opacity: 1 }
    });
  }
  title.push({
    text: panelTitles[p], left: cx, top: titleY[Math.floor(p / 4)],
    textAlign: 'center', textVerticalAlign: 'middle', padding: 0,
    textStyle: { fontFamily: FONT, fontWeight: 'bold', fontSize: 38, color: '#000' }
  });
});

// direction tick labels (panel b), placed inside the rim
series.push({
  type: 'scatter', coordinateSystem: 'polar', polarIndex: 1, silent: true, animation: false, z: 20,
  symbolSize: 1, itemStyle: { color: 'rgba(0,0,0,0)' },
  data: angleTickValues.map((v, i) => ({ value: [13.5, v], label: { formatter: angleTickLabels[i] } })),
  label: { show: true, position: 'inside', color: '#999999', fontSize: 26, fontWeight: 'bold', fontFamily: FONT }
});

// radial ring labels (panel a)
const ringLabelOffsets = [[11, -15], [12, -15], [38, -13]];
series.push({
  type: 'scatter', coordinateSystem: 'polar', polarIndex: 0, silent: true, animation: false, z: 20,
  symbolSize: 1, itemStyle: { color: 'rgba(0,0,0,0)' },
  data: radialLabelValues.map((v, i) => ({ value: [v, 45], label: { formatter: radialLabelTexts[i], offset: ringLabelOffsets[i] } })),
  label: { show: true, position: 'inside', color: '#999999', fontSize: 29, fontWeight: 'bold', fontFamily: FONT }
});

title.push({
  text: '{t|wind speed (ws) [}{t|m\u2009s}{s|\u22121}{t|]}',
  left: 601, top: 1068, textAlign: 'center', textVerticalAlign: 'middle', padding: 0,
  textStyle: { fontWeight: 'normal', rich: {
    t: { fontFamily: FONT, fontSize: 29, fontWeight: 'normal', color: '#000', lineHeight: 34 },
    s: { fontFamily: FONT, fontSize: 19, fontWeight: 'normal', color: '#000', verticalAlign: 'top', lineHeight: 34, padding: [0, 2, 0, 2] }
  } }
});

const chart = echarts.init(document.getElementById('chart'), null, { renderer: 'canvas' });
chart.setOption({ animation: false, backgroundColor: '#fff', title, polar, angleAxis, radiusAxis, series });
</script></body></html>
